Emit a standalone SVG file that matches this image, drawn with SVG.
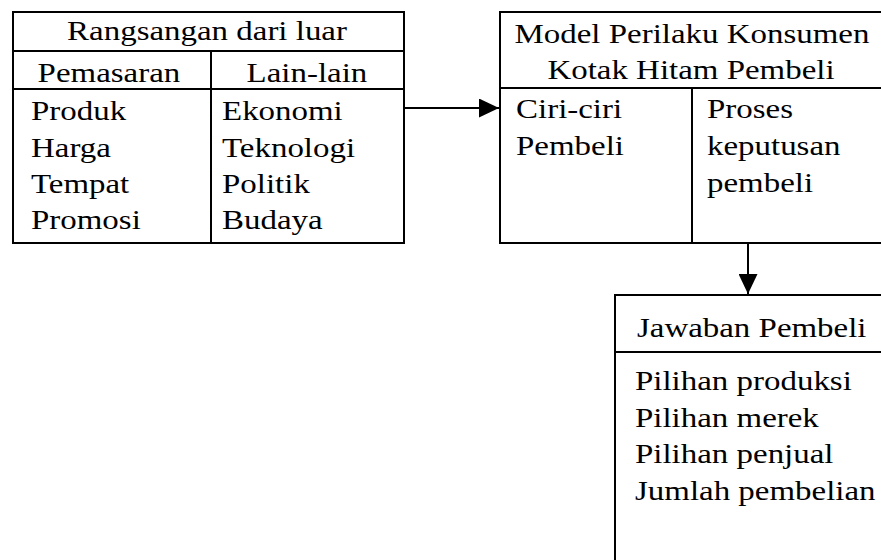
<svg xmlns="http://www.w3.org/2000/svg" width="881" height="560" viewBox="0 0 881 560">
<style>
.b{fill:none;stroke:#000;stroke-width:2}
.l{stroke:#000;stroke-width:2;fill:none}
text{font-family:"Liberation Serif","Times New Roman",serif;font-size:27px;fill:#000}
.c{text-anchor:middle}
</style>
<defs>
<marker id="ah2" markerWidth="20" markerHeight="19" refX="20" refY="9.5" orient="auto" markerUnits="userSpaceOnUse" viewBox="0 0 20 19">
<path d="M0,0 L20,9.5 L0,19 Z" fill="#000"/>
</marker>
</defs>
<rect width="881" height="560" fill="#fff"/>
<g id="stimuli">
<rect class="b" x="13" y="12" width="391" height="231"/>
<line class="l" x1="13" y1="51" x2="404" y2="51"/>
<line class="l" x1="13" y1="89" x2="404" y2="89"/>
<line class="l" x1="211" y1="51" x2="211" y2="243"/>
<g transform="scale(1.22,1)">
<text class="c" x="169.7" y="40">Rangsangan dari luar</text>
<text class="c" x="89.3" y="82">Pemasaran</text>
<text class="c" x="251.6" y="82">Lain-lain</text>
<text x="25.4" y="120">Produk</text>
<text x="25.4" y="157">Harga</text>
<text x="25.4" y="193">Tempat</text>
<text x="25.4" y="229">Promosi</text>
<text x="182" y="120">Ekonomi</text>
<text x="182" y="157">Teknologi</text>
<text x="182" y="193">Politik</text>
<text x="182" y="229">Budaya</text>
</g>
</g>
<g id="blackbox">
<polyline class="l" points="890,12 500,12 500,243 890,243"/>
<line class="l" x1="500" y1="88" x2="890" y2="88"/>
<line class="l" x1="692" y1="88" x2="692" y2="243"/>
<g transform="scale(1.22,1)">
<text class="c" x="567.2" y="43">Model Perilaku Konsumen</text>
<text class="c" x="566.4" y="79">Kotak Hitam Pembeli</text>
<text x="423" y="118">Ciri-ciri</text>
<text x="423" y="155">Pembeli</text>
<text x="579.5" y="118">Proses</text>
<text x="579.5" y="155">keputusan</text>
<text x="579.5" y="192">pembeli</text>
</g>
</g>
<g id="response">
<polyline class="l" points="890,295 615,295 615,570"/>
<line class="l" x1="615" y1="352" x2="890" y2="352"/>
<g transform="scale(1.22,1)">
<text x="522.1" y="337">Jawaban Pembeli</text>
<text x="520.5" y="390">Pilihan produksi</text>
<text x="520.5" y="427">Pilihan merek</text>
<text x="520.5" y="463">Pilihan penjual</text>
<text x="520.5" y="500">Jumlah pembelian</text>
</g>
</g>
<g id="connectors">
<line class="l" x1="404" y1="108" x2="499" y2="108" marker-end="url(#ah2)"/>
<line class="l" x1="748" y1="243" x2="748" y2="294" marker-end="url(#ah2)"/>
</g>
</svg>
